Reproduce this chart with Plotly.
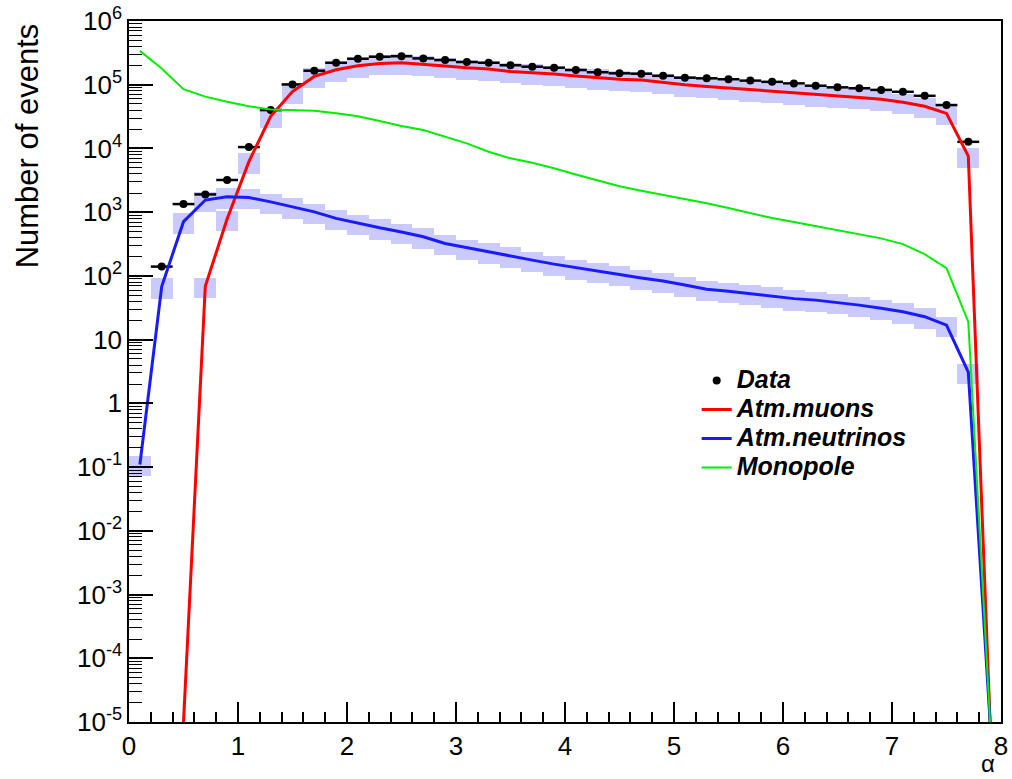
import plotly.graph_objects as go

# Bin centres (bin width 0.2) of alpha
alpha = [0.1, 0.3, 0.5, 0.7, 0.9, 1.1, 1.3, 1.5, 1.7, 1.9,
         2.1, 2.3, 2.5, 2.7, 2.9, 3.1, 3.3, 3.5, 3.7, 3.9,
         4.1, 4.3, 4.5, 4.7, 4.9, 5.1, 5.3, 5.5, 5.7, 5.9,
         6.1, 6.3, 6.5, 6.7, 6.9, 7.1, 7.3, 7.5, 7.7, 7.9]

data_counts = [None, 140, 1340, 1900, 3200, 10500, 40000, 1.01e5, 1.66e5, 2.21e5,
               2.56e5, 2.75e5, 2.80e5, 2.59e5, 2.44e5, 2.27e5, 2.21e5, 2.02e5, 1.92e5, 1.85e5,
               1.70e5, 1.57e5, 1.51e5, 1.49e5, 1.38e5, 1.29e5, 1.26e5, 1.22e5, 1.16e5, 1.11e5,
               1.05e5, 9.65e4, 9.1e4, 8.8e4, 8.3e4, 7.75e4, 6.7e4, 4.8e4, 1.27e4, None]

atm_muons = [None, None, 1e-5, 69, 780, 6200, 3.2e4, 7.8e4, 1.35e5, 1.72e5,
             1.98e5, 2.15e5, 2.21e5, 2.11e5, 1.97e5, 1.84e5, 1.76e5, 1.61e5, 1.54e5, 1.47e5,
             1.37e5, 1.29e5, 1.22e5, 1.19e5, 1.09e5, 1.00e5, 9.4e4, 8.9e4, 8.3e4, 7.85e4,
             7.46e4, 7.0e4, 6.65e4, 6.3e4, 5.9e4, 5.3e4, 4.6e4, 3.55e4, 7.6e3, 1e-5]

atm_neutrinos = [0.11, 68, 710, 1550, 1750, 1700, 1450, 1220, 1010, 800,
                 670, 570, 490, 411, 323, 276, 239, 207, 177, 153,
                 134, 119, 105, 93, 83, 72, 62, 57.5, 53, 49,
                 44, 41.7, 38.4, 34.8, 31, 27.4, 22.9, 16.9, 3.1, 1e-5]

monopole = [3.4e5, 1.8e5, 8.5e4, 6.5e4, 5.4e4, 4.6e4, 4.1e4, 4.0e4, 3.9e4, 3.56e4,
            3.2e4, 2.7e4, 2.25e4, 1.95e4, 1.53e4, 1.2e4, 8.9e3, 7.0e3, 5.96e3, 4.9e3,
            3.9e3, 3.16e3, 2.56e3, 2.17e3, 1.86e3, 1.63e3, 1.38e3, 1.16e3, 970, 810,
            700, 605, 513, 445, 388, 316, 219, 132, 19, 1e-5]

legend_names = ["Data", "Atm.muons", "Atm.neutrinos", "Monopole"]

syst_fraction = 0.35          # relative systematic band width of the MC
bin_width = 0.2
y_tickvals = [1e-5, 1e-4, 1e-3, 1e-2, 1e-1, 1, 10, 1e2, 1e3, 1e4, 1e5, 1e6]
y_ticktext = ["10<sup>-5</sup>", "10<sup>-4</sup>", "10<sup>-3</sup>", "10<sup>-2</sup>",
              "10<sup>-1</sup>", "1", "10", "10<sup>2</sup>", "10<sup>3</sup>",
              "10<sup>4</sup>", "10<sup>5</sup>", "10<sup>6</sup>"]
x_tickvals = [0, 1, 2, 3, 4, 5, 6, 7, 8]

BAND_COLOR = "rgba(150,150,255,0.5)"
FONT = "Liberation Sans, Arial, Helvetica, sans-serif"


def band(values):
    xs, base, height = [], [], []
    for x, v in zip(alpha, values):
        if v is None or v <= 1e-5:
            continue
        lo, hi = v * (1 - syst_fraction), v * (1 + syst_fraction)
        xs.append(x)
        base.append(lo)
        height.append(hi - lo)
    return xs, base, height


def legend_label(name):
    return f'<span style="font-size:25px">{name}</span>'


fig = go.Figure()

for vals in (atm_muons, atm_neutrinos):
    bx, bb, bh = band(vals)
    fig.add_trace(go.Bar(x=bx, y=bh, base=bb, width=bin_width,
                         marker=dict(color=BAND_COLOR, line=dict(width=0)),
                         showlegend=False, hoverinfo="skip"))

data_err = [None if v is None else v ** 0.5 for v in data_counts]
fig.add_trace(go.Scatter(
    x=alpha, y=data_counts, mode="markers", name=legend_label(legend_names[0]),
    marker=dict(color="black", size=8, symbol="circle"),
    error_x=dict(type="constant", value=bin_width / 2, color="black", thickness=2.5, width=0),
    error_y=dict(type="data", array=data_err, color="black", thickness=2, width=0),
))
fig.add_trace(go.Scatter(x=alpha, y=atm_muons, mode="lines", name=legend_label(legend_names[1]),
                         line=dict(color="#ff0000", width=3)))
fig.add_trace(go.Scatter(x=alpha, y=atm_neutrinos, mode="lines", name=legend_label(legend_names[2]),
                         line=dict(color="#1a1aff", width=3)))
fig.add_trace(go.Scatter(x=alpha, y=monopole, mode="lines", name=legend_label(legend_names[3]),
                         line=dict(color="#00ee00", width=2)))

fig.update_layout(
    width=1012, height=779,
    margin=dict(l=129, r=11, t=21, b=57, autoexpand=False),
    paper_bgcolor="white", plot_bgcolor="white",
    barmode="overlay", bargap=0,
    font=dict(family=FONT, color="black"),
    showlegend=True,
    legend=dict(x=0.651, y=0.515, xanchor="left", yanchor="top",
                bgcolor="rgba(0,0,0,0)", borderwidth=0, itemwidth=30,
                font=dict(family=FONT, size=20, weight="bold", style="italic", color="black"),
                tracegroupgap=0),
)

fig.update_xaxes(
    range=[0, 8], showgrid=False, zeroline=False, automargin=False,
    showline=True, linecolor="black", linewidth=1.5, mirror=True,
    ticks="inside", ticklen=20, tickwidth=1.5, tickcolor="black",
    tickmode="array", tickvals=x_tickvals,
    tickfont=dict(family=FONT, size=26, color="black"),
    minor=dict(ticks="inside", ticklen=10, tickwidth=1.5, tickcolor="black", dtick=0.2, showgrid=False),
)
fig.update_yaxes(
    type="log", range=[-5, 6], showgrid=False, zeroline=False, automargin=False,
    showline=True, linecolor="black", linewidth=1.5, mirror=True,
    ticks="inside", ticklen=24, tickwidth=1.5, tickcolor="black",
    tickmode="array", tickvals=y_tickvals, ticktext=y_ticktext,
    tickfont=dict(family=FONT, size=26, color="black"),
    minor=dict(ticks="inside", ticklen=13, tickwidth=1.2, tickcolor="black", dtick="D1", showgrid=False),
)

fig.add_annotation(text="Number of events", textangle=-90, xref="paper", yref="paper",
                   x=-0.116, y=1.0, xanchor="center", yanchor="top", showarrow=False,
                   font=dict(family=FONT, size=31, color="black"))
fig.add_annotation(text="α", xref="paper", yref="paper", x=0.985, y=-0.0813,
                   xanchor="center", yanchor="bottom", showarrow=False,
                   font=dict(family=FONT, size=24, color="black"))

fig.write_html("out.html")
